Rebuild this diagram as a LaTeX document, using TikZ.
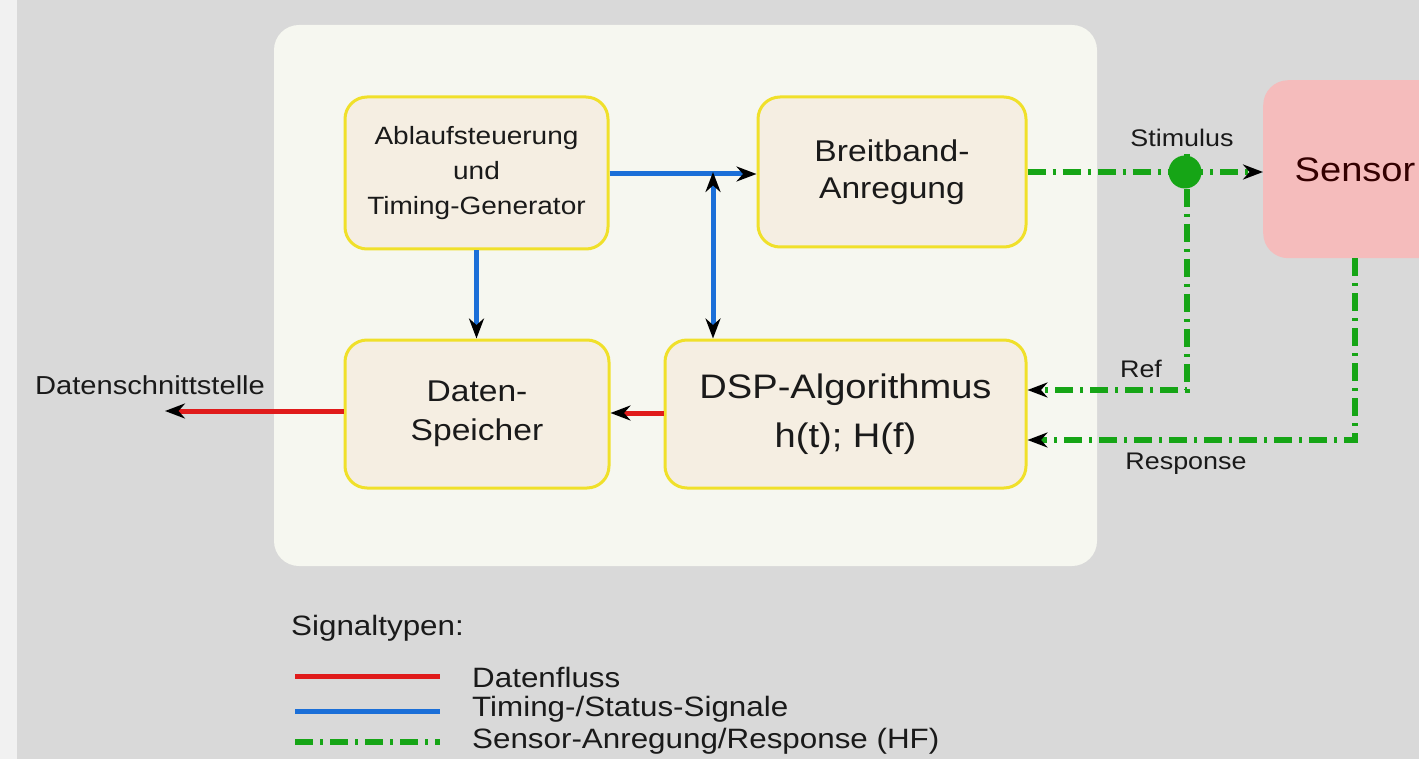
\documentclass[tikz,border=0pt]{standalone}
\usepackage{fontspec}
\setmainfont[FakeStretch=1.12]{Liberation Sans}
\usetikzlibrary{arrows.meta}
\definecolor{bggray}{HTML}{D9D9D9}
\definecolor{strip}{HTML}{F1F1F1}
\definecolor{panel}{HTML}{F6F7F0}
\definecolor{boxfill}{HTML}{F5EEE2}
\definecolor{boxline}{HTML}{F0E02A}
\definecolor{sensorfill}{HTML}{F5BCBC}
\definecolor{sigred}{HTML}{E01B1B}
\definecolor{sigblue}{HTML}{1B6FD8}
\definecolor{siggreen}{HTML}{16A516}
\definecolor{txt}{HTML}{1A1A1A}
\tikzset{
  fs/.style 2 args={font=\fontsize{#1}{#2}\selectfont},
  block/.style={draw=boxline, line width=3, fill=boxfill, rounded corners=22,
    inner sep=0, align=center, text=txt},
  tip/.style={-{Stealth[length=20pt,width=15pt,black]}},
  dtip/.style={{Stealth[length=20pt,width=15pt,black]}-{Stealth[length=20pt,width=15pt,black]}},
  dline/.style={draw=sigred, line width=5},
  tline/.style={draw=sigblue, line width=5},
  hfline/.style={draw=siggreen, line width=6, dash pattern=on 18pt off 7pt on 3pt off 7pt},
  lbl/.style={text=txt, inner sep=0}
}
\begin{document}
\begin{tikzpicture}[x=1pt,y=-1pt]
\useasboundingbox (0,0) rectangle (1419,759);
\clip (0,0) rectangle (1419,759);
\fill[bggray] (0,0) rectangle (1419,759);
\fill[strip] (0,0) rectangle (17,759);
\fill[panel, rounded corners=25] (274,25) rectangle (1097,566);

% blocks
\node[block, fs={25}{35}, minimum width=263, minimum height=152] (ablauf) at (476.5,173)
  {Ablaufsteuerung\\und\\Timing-Generator};
\node[block, fs={30}{37}, minimum width=268, minimum height=150] (breit) at (892,172)
  {Breitband-\\Anregung};
\node[block, fs={30}{39}, minimum width=264, minimum height=148] (daten) at (477,414)
  {Daten-\\Speicher};
\node[block, fs={34}{49}, minimum width=361, minimum height=148] (dsp) at (845.5,414)
  {DSP-Algorithmus\\h(t); H(f)};
\node[fill=sensorfill, rounded corners=25, minimum width=230, minimum height=178,
  anchor=north west, inner sep=0] (sensor) at (1263,80) {};
\node[lbl, fs={34}{40}, text=black!80!red] (sensortxt) at (1355,170) {Sensor};

% timing / status
\coordinate (j) at (713,174);
\draw[tline, tip] (ablauf.east |- j) -- (breit.west |- j);
\draw[tline, dtip] ([yshift=2]j) -- (dsp.north -| j);
\draw[tline, tip] (ablauf.south) -- (daten.north -| ablauf.south);

% data flow
\coordinate (dout) at (165,411);
\draw[dline, tip] (dsp.west |- 0,413) -- (daten.east |- 0,413);
\draw[dline, tip] (daten.west |- dout) -- (dout);
\node[lbl, fs={26}{30}] (dsl) at (150,385) {Datenschnittstelle};

% HF signals
\coordinate (split) at (1185,172);
\coordinate (refc) at (1187,390);
\coordinate (respc) at (1355,440);
\draw[hfline] (breit.east |- split) -- (split);
\draw[hfline, tip] (split) -- (sensor.west |- split);
\draw[hfline, tip] ([yshift=18]split -| refc) -- (refc) -- (dsp.east |- refc);
\draw[hfline, tip] (sensor.south -| respc) -- (respc) -- (dsp.east |- respc);
\node[circle, fill=siggreen, minimum size=33, inner sep=0] (splitdot) at (split) {};
\node[lbl, fs={24}{28}] (stim) at (1182,138) {Stimulus};
\node[lbl, fs={24}{28}] (refl) at (1141,369) {Ref};
\node[lbl, fs={24}{28}] (respl) at (1186,464) {Response};

% legend
\node[lbl, fs={28}{32}, anchor=west] (sigt) at (291,628) {Signaltypen:};
\coordinate (l1a) at (295,676); \coordinate (l1b) at (440,676);
\coordinate (l2a) at (295,711); \coordinate (l2b) at (440,711);
\coordinate (l3a) at (295,742); \coordinate (l3b) at (440,742);
\draw[dline] (l1a) -- (l1b);
\draw[tline] (l2a) -- (l2b);
\draw[hfline] (l3a) -- (l3b);
\node[lbl, fs={28}{32}, anchor=west] (leg1) at (472,677) {Datenfluss};
\node[lbl, fs={28}{32}, anchor=west] (leg2) at (472,709) {Timing-/Status-Signale};
\node[lbl, fs={28}{32}, anchor=west] (leg3) at (472,741) {Sensor-Anregung/Response (HF)};
\end{tikzpicture}
\end{document}
